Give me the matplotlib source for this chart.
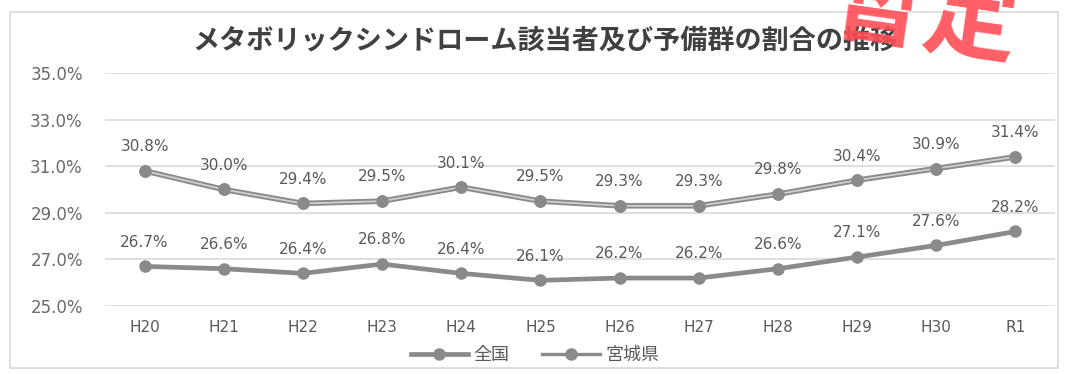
import matplotlib
matplotlib.use("Agg")
import matplotlib.pyplot as plt
from matplotlib.patches import Rectangle

plt.rcParams['font.family'] = ['Noto Sans CJK JP', 'DejaVu Sans']

years = ["H20", "H21", "H22", "H23", "H24", "H25", "H26", "H27", "H28", "H29", "H30", "R1"]
zenkoku = [26.7, 26.6, 26.4, 26.8, 26.4, 26.1, 26.2, 26.2, 26.6, 27.1, 27.6, 28.2]
miyagi = [30.8, 30.0, 29.4, 29.5, 30.1, 29.5, 29.3, 29.3, 29.8, 30.4, 30.9, 31.4]
yticks = [25, 27, 29, 31, 33, 35]

W, H = 1069, 374
fig = plt.figure(figsize=(W / 100, H / 100), dpi=100)
numfont = "DejaVu Sans"
txtcol = "#595959"

# outer frame of the chart
fig.patches.append(Rectangle((10 / W, 6 / H), 1048 / W, 356 / H, transform=fig.transFigure,
                             fill=False, edgecolor="#d9d9d9", linewidth=1.2))

ax = fig.add_axes([105 / W, (H - 306) / H, 950 / W, 233 / H])
x = list(range(len(years)))

grey = "#8a8a8a"
ax.plot(x, zenkoku, color=grey, linewidth=3.4, marker="o", markersize=8, label="全国", zorder=3)
ax.plot(x, miyagi, color=grey, linewidth=4.0, marker="o", markersize=8, label="宮城県", zorder=3)
ax.plot(x, miyagi, color="#cfcfcf", linewidth=1.3, zorder=3.5)
ax.plot(x, miyagi, color=grey, linewidth=0, marker="o", markersize=8, zorder=4)

for xi, v in zip(x, zenkoku):
    ax.annotate(f"{v:.1f}%", (xi, v), xytext=(0, 12), textcoords="offset points",
                ha="center", va="bottom", fontsize=11, color=txtcol, family=numfont)
for xi, v in zip(x, miyagi):
    ax.annotate(f"{v:.1f}%", (xi, v), xytext=(0, 12), textcoords="offset points",
                ha="center", va="bottom", fontsize=11, color=txtcol, family=numfont)

ax.set_xlim(-0.5, len(years) - 0.5)
ax.set_ylim(25, 35)
ax.set_yticks(yticks)
ax.set_yticklabels([f"{t:.1f}%" for t in yticks], fontsize=12, color="#6a6a6a", family=numfont)
ax.set_xticks(x)
ax.set_xticklabels(years, fontsize=11, color=txtcol, family=numfont)
ax.tick_params(axis="y", length=0, pad=16)
ax.tick_params(axis="x", length=0, pad=10)
ax.grid(axis="y", color="#d9d9d9", linewidth=1.2)
ax.set_axisbelow(True)
for s in ax.spines.values():
    s.set_visible(False)

leg = fig.legend(*ax.get_legend_handles_labels(), loc="center", bbox_to_anchor=(535 / W, 1 - 355 / H),
                 ncol=2, frameon=False, fontsize=13, handlelength=3.2, columnspacing=1.8,
                 handletextpad=0.3, borderpad=0)
for t in leg.get_texts():
    t.set_color(txtcol)
leg.get_lines()[1].set_linewidth(2.4)

fig.text(545 / W, 1 - 40 / H, "メタボリックシンドローム該当者及び予備群の割合の推移",
         ha="center", va="center", fontsize=19.5, fontweight="bold", color="#404040")

# red stamp partially cut off at the top
fig.text(925 / W, 1 - 15 / H, "暫定", ha="center", va="center", fontsize=68,
         fontweight="bold", color="#ff4d55", alpha=0.9, rotation=-8)

fig.savefig("out.png", dpi=100)
